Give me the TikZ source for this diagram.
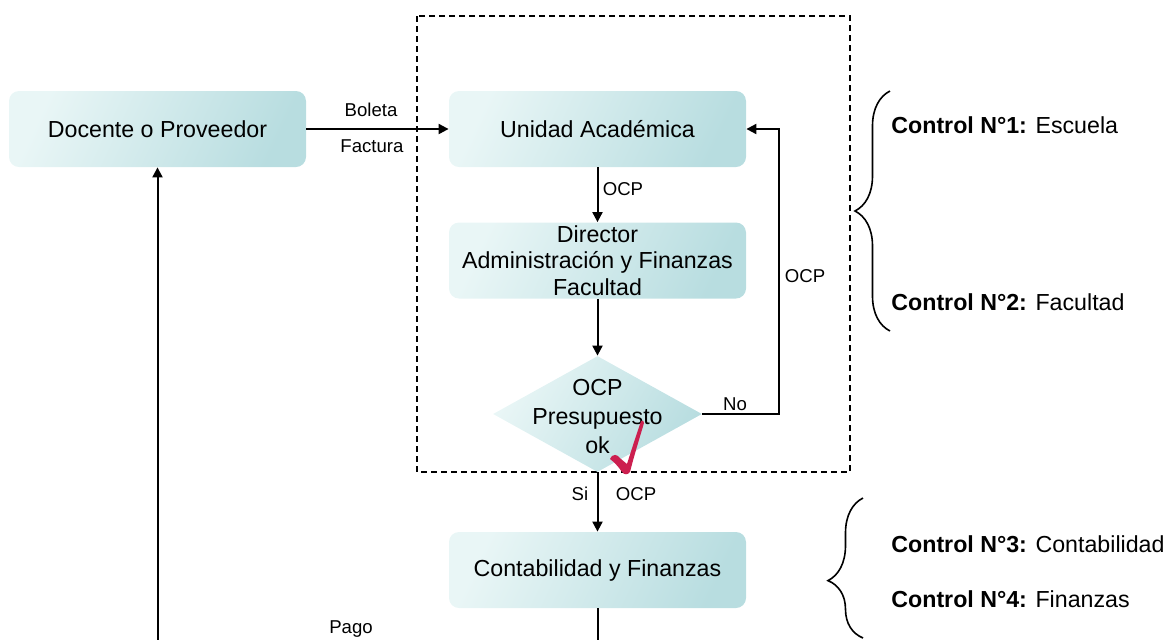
\documentclass[tikz,border=0pt]{standalone}
\usepackage{fontspec}
\setmainfont{Liberation Sans}
\usetikzlibrary{shapes.geometric,arrows.meta,decorations.pathreplacing}

\definecolor{cajaclara}{HTML}{E9F6F6}
\definecolor{cajaoscura}{HTML}{B8DDE0}
\definecolor{visto}{HTML}{CC1F4F}

\tikzset{
  caja/.style={rectangle, rounded corners=5pt, minimum width=148.5pt, minimum height=38pt,
    inner sep=0pt, align=center, top color=cajaclara, bottom color=cajaoscura, shading angle=65,
    font=\fontsize{11.6pt}{13.25pt}\selectfont},
  rombo/.style={diamond, minimum width=104.5pt, minimum height=58pt, inner sep=0pt,
    top color=cajaclara, bottom color=cajaoscura, shading angle=60},
  flecha/.style={line width=1pt, -{Triangle[length=5pt,width=5pt]}},
  linea/.style={line width=1pt},
  etiq/.style={font=\fontsize{9.3pt}{11pt}\selectfont, inner sep=0pt},
  control/.style={font=\fontsize{11.6pt}{13.25pt}\selectfont, anchor=west, inner sep=0pt},
  llave/.style={line width=0.8pt, decorate, decoration={brace, amplitude=17.5pt}}
}

\begin{document}
\begin{tikzpicture}[x=0.5pt, y=-0.5pt]
  \useasboundingbox (0,0) rectangle (1164,639);
  \clip (0,0) rectangle (1164,639);

  % zona de control de la facultad
  \draw[line width=0.75pt, dash pattern=on 3pt off 2pt] (417,16) rectangle (850,472);

  \node[caja] (docente) at (157.5,129) {Docente o Proveedor};
  \node[caja] (unidad) at (597.5,129) {Unidad Académica};
  \node[caja] (director) at (597.5,260.5) {Director\\Administración y Finanzas\\Facultad};
  \node[rombo] (presup) at (597.5,414) {};
  \node[align=center, inner sep=0pt, font=\fontsize{11.6pt}{14.5pt}\selectfont] (presuptxt) at (597.5,417) {OCP\\Presupuesto\\ok};
  \node[caja] (conta) at (597.5,570) {Contabilidad y Finanzas};

  % visto bueno
  \fill[visto] (610,459) .. controls (613,453) and (617,454) .. (621,459)
    -- (627,464) .. controls (632,448) and (637,433) .. (641,421)
    .. controls (643,420) and (644,421) .. (644,423)
    .. controls (639,440) and (634,456) .. (630,472)
    .. controls (628,475) and (624,475) .. (622,472)
    .. controls (618,466) and (614,462) .. cycle;

  \coordinate (retornoNo) at (779,129);
  \coordinate (pagoA) at (597.5,680);
  \coordinate (pagoB) at (157.5,680);

  \draw[flecha] (docente) -- (unidad);
  \draw[flecha] (unidad) -- (director);
  \draw[flecha] (director) -- (presup);
  \draw[flecha] (presup.east) -| (retornoNo) -- (unidad.east);
  \draw[flecha] (presup) -- (conta);
  \draw[flecha] (conta.south) -- (pagoA) -- (pagoB) -- (docente.south);

  \node[etiq] (boleta) at (371,110) {Boleta};
  \node[etiq] (factura) at (372,146) {Factura};
  \node[etiq] (ocpA) at (623,189) {OCP};
  \node[etiq] (ocpB) at (805,276) {OCP};
  \node[etiq] (no) at (735,404) {No};
  \node[etiq] (si) at (580,494) {Si};
  \node[etiq] (ocpC) at (636,494) {OCP};
  \node[etiq] (pago) at (351,629) {Pago};

  % controles
  \draw[llave] (890,331) -- (890,91);
  \draw[llave, decoration={aspect=0.41}] (863,638) -- (863,498);
  \node[control] (ctrlA) at (891,125) {\textbf{Control N°1:} Escuela};
  \node[control] (ctrlB) at (891,302) {\textbf{Control N°2:} Facultad};
  \node[control] (ctrlC) at (891,544) {\textbf{Control N°3:} Contabilidad};
  \node[control] (ctrlD) at (891,599) {\textbf{Control N°4:} Finanzas};
\end{tikzpicture}
\end{document}
